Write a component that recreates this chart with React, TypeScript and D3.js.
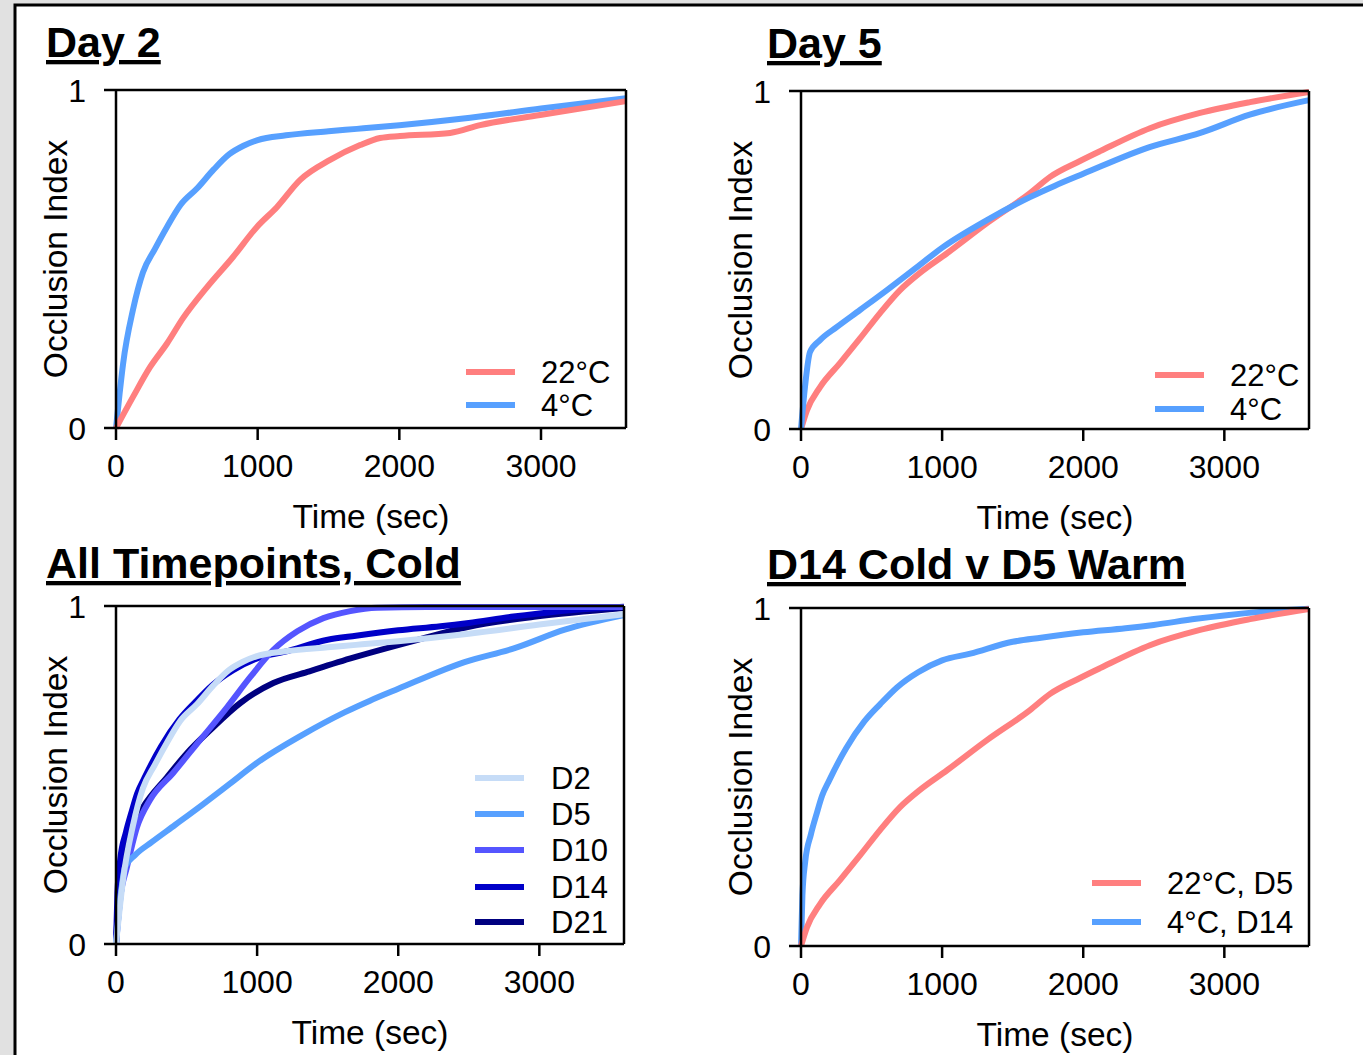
import React from "react";
import * as d3 from "d3";

// ---------- DATA ----------
const xTicks = [0, 1000, 2000, 3000];
const yTicks = [0, 1];
const titles = ["Day 2", "Day 5", "All Timepoints, Cold", "D14 Cold v D5 Warm"];
const xLabel = "Time (sec)";
const yLabel = "Occlusion Index";

// Day 2, 22°C
const d2WarmT = [0, 120, 240, 360, 473, 643, 826, 995, 1137, 1300, 1511, 1723, 1864, 2005, 2359, 2570, 2994, 3600];
const d2WarmV = [0, 0.092, 0.18, 0.25, 0.325, 0.417, 0.506, 0.595, 0.654, 0.734, 0.793, 0.837, 0.858, 0.864, 0.873, 0.896, 0.926, 0.967];
// Day 2, 4°C (also D2 cold)
const d2ColdT = [0, 25, 50, 120, 190, 275, 360, 455, 575, 690, 800, 900, 1000, 1200, 1500, 1700, 2000, 2500, 3000, 3600];
const d2ColdV = [0, 0.1, 0.19, 0.35, 0.46, 0.53, 0.595, 0.66, 0.71, 0.765, 0.81, 0.835, 0.852, 0.866, 0.878, 0.885, 0.896, 0.918, 0.945, 0.976];
// Day 5, 22°C
const d5WarmT = [0, 42, 135, 276, 418, 560, 702, 843, 1035, 1318, 1623, 1765, 1977, 2119, 2473, 2828, 3182, 3600];
const d5WarmV = [0, 0.055, 0.124, 0.195, 0.268, 0.343, 0.411, 0.462, 0.52, 0.609, 0.698, 0.746, 0.793, 0.822, 0.89, 0.935, 0.967, 0.997];
// Day 5, 4°C (also D5 cold)
const d5ColdT = [0, 28, 64, 135, 255, 418, 609, 794, 1006, 1318, 1623, 1800, 2000, 2470, 2830, 3180, 3600];
const d5ColdV = [0, 0.124, 0.228, 0.263, 0.302, 0.352, 0.411, 0.47, 0.538, 0.618, 0.686, 0.72, 0.755, 0.834, 0.876, 0.93, 0.973];
// D10 cold
const d10ColdT = [0, 28, 78, 149, 241, 405, 597, 788, 952, 1115, 1285, 1470, 1660, 1850, 2200, 3600];
const d10ColdV = [0, 0.13, 0.228, 0.346, 0.426, 0.506, 0.604, 0.701, 0.79, 0.87, 0.925, 0.964, 0.985, 0.995, 0.997, 0.997];
// D14 cold
const d14ColdT = [0, 10, 30, 70, 110, 150, 200, 320, 450, 560, 680, 830, 1000, 1200, 1500, 1700, 2000, 2300, 2500, 2800, 3000, 3300, 3600];
const d14ColdV = [0, 0.15, 0.25, 0.33, 0.39, 0.445, 0.49, 0.585, 0.665, 0.715, 0.765, 0.81, 0.845, 0.865, 0.9, 0.912, 0.928, 0.94, 0.95, 0.968, 0.978, 0.99, 0.998];
// D21 cold
const d21ColdT = [0, 20, 60, 120, 192, 362, 504, 668, 881, 1115, 1357, 1662, 2138, 2493, 2962, 3600];
const d21ColdV = [0, 0.15, 0.27, 0.35, 0.405, 0.494, 0.565, 0.633, 0.713, 0.772, 0.805, 0.845, 0.9, 0.938, 0.968, 0.994];

const warmColor = "#ff7f7f";
const coldColors = ["#c6dcf7", "#57a0ff", "#5555ff", "#0000c8", "#000080"];

type Series = { name: string; color: string; t: number[]; v: number[] };

const panel1: Series[] = [
  { name: "22\u00b0C", color: warmColor, t: d2WarmT, v: d2WarmV },
  { name: "4\u00b0C", color: coldColors[1], t: d2ColdT, v: d2ColdV },
];
const panel2: Series[] = [
  { name: "22\u00b0C", color: warmColor, t: d5WarmT, v: d5WarmV },
  { name: "4\u00b0C", color: coldColors[1], t: d5ColdT, v: d5ColdV },
];
const panel3: Series[] = [
  { name: "D2", color: coldColors[0], t: d2ColdT, v: d2ColdV },
  { name: "D5", color: coldColors[1], t: d5ColdT, v: d5ColdV },
  { name: "D10", color: coldColors[2], t: d10ColdT, v: d10ColdV },
  { name: "D14", color: coldColors[3], t: d14ColdT, v: d14ColdV },
  { name: "D21", color: coldColors[4], t: d21ColdT, v: d21ColdV },
];
const panel4: Series[] = [
  { name: "22\u00b0C, D5", color: warmColor, t: d5WarmT, v: d5WarmV },
  { name: "4\u00b0C, D14", color: coldColors[1], t: d14ColdT, v: d14ColdV },
];

// ---------- LAYOUT ----------
const FONT = "'Liberation Sans', Arial, Helvetica, sans-serif";

type PanelLayout = {
  series: Series[];
  title: string;
  left: number; right: number; top: number; bottom: number;
  titleX: number; titleY: number;
  legX1: number; legX2: number; legTextX: number; legRows: number[];
  drawOrder: number[];
};

const layouts: PanelLayout[] = [
  { series: panel1, title: titles[0], left: 116, right: 626, top: 90, bottom: 428, titleX: 46, titleY: 57,
    legX1: 466, legX2: 515, legTextX: 541, legRows: [372, 405], drawOrder: [1, 0] },
  { series: panel2, title: titles[1], left: 801, right: 1309, top: 91, bottom: 429, titleX: 767, titleY: 58,
    legX1: 1155, legX2: 1204, legTextX: 1230, legRows: [375, 409], drawOrder: [0, 1] },
  { series: panel3, title: titles[2], left: 116, right: 624, top: 606, bottom: 944, titleX: 46, titleY: 578,
    legX1: 475, legX2: 524, legTextX: 551, legRows: [778, 814, 850, 887, 922], drawOrder: [4, 3, 2, 1, 0] },
  { series: panel4, title: titles[3], left: 801, right: 1309, top: 608, bottom: 946, titleX: 767, titleY: 579,
    legX1: 1092, legX2: 1141, legTextX: 1167, legRows: [883, 922], drawOrder: [1, 0] },
];

function Panel({ p }: { p: PanelLayout }) {
  const x = d3.scaleLinear().domain([0, 3600]).range([p.left, p.right]);
  const y = d3.scaleLinear().domain([0, 1]).range([p.bottom, p.top]);
  const line = d3
    .line<[number, number]>()
    .x((d) => x(d[0]))
    .y((d) => y(d[1]))
    .curve(d3.curveMonotoneX);
  const tick = 12;
  return (
    <g>
      <text x={p.titleX} y={p.titleY} fontFamily={FONT} fontSize={43} fontWeight="bold"
        style={{ textDecoration: "underline" }}>{p.title}</text>
      {/* series */}
      {p.drawOrder.map((i) => {
        const s = p.series[i];
        const pts = s.t.map((t, k) => [t, s.v[k]] as [number, number]);
        return (
          <path key={s.name} d={line(pts) || ""} fill="none" stroke={s.color} strokeWidth={6}
            strokeLinejoin="round" strokeLinecap="butt" />
        );
      })}
      {/* frame */}
      <g stroke="#000" strokeWidth={2.5} fill="none">
        <line x1={p.left} x2={p.left} y1={p.top} y2={p.bottom} />
        <line x1={p.left - tick} x2={p.right} y1={p.bottom} y2={p.bottom} />
        <line x1={p.left - tick} x2={p.right} y1={p.top} y2={p.top} />
        <line x1={p.right} x2={p.right} y1={p.top} y2={p.bottom} />
        {xTicks.map((t) => (
          <line key={t} x1={x(t)} x2={x(t)} y1={p.bottom} y2={p.bottom + tick} />
        ))}
      </g>
      {/* tick labels */}
      {xTicks.map((t) => (
        <text key={t} x={x(t)} y={p.bottom + 49} textAnchor="middle" fontFamily={FONT} fontSize={32}>{t}</text>
      ))}
      {yTicks.map((v) => (
        <text key={v} x={p.left - 30} y={y(v) + 11.5} textAnchor="end" fontFamily={FONT} fontSize={32}>{v}</text>
      ))}
      <text x={(p.left + p.right) / 2} y={p.bottom + 100} textAnchor="middle" fontFamily={FONT} fontSize={33.5}>{xLabel}</text>
      <text transform={`translate(${p.left - 49},${(p.top + p.bottom) / 2}) rotate(-90)`} textAnchor="middle"
        fontFamily={FONT} fontSize={33.5}>{yLabel}</text>
      {/* legend */}
      {p.series.map((s, i) => (
        <g key={s.name}>
          <line x1={p.legX1} x2={p.legX2} y1={p.legRows[i]} y2={p.legRows[i]} stroke={s.color} strokeWidth={6} />
          <text x={p.legTextX} y={p.legRows[i] + 11} fontFamily={FONT} fontSize={31}>{s.name}</text>
        </g>
      ))}
    </g>
  );
}

export default function App() {
  return (
    <svg width={1363} height={1055} style={{ position: "absolute", left: 0, top: 0, display: "block" }}>
      <rect x={0} y={0} width={1363} height={1055} fill="#e1e1e1" />
      <rect x={15} y={5} width={1400} height={1100} fill="#fff" stroke="#000" strokeWidth={3} />
      {layouts.map((p, i) => (
        <Panel key={i} p={p} />
      ))}
    </svg>
  );
}
